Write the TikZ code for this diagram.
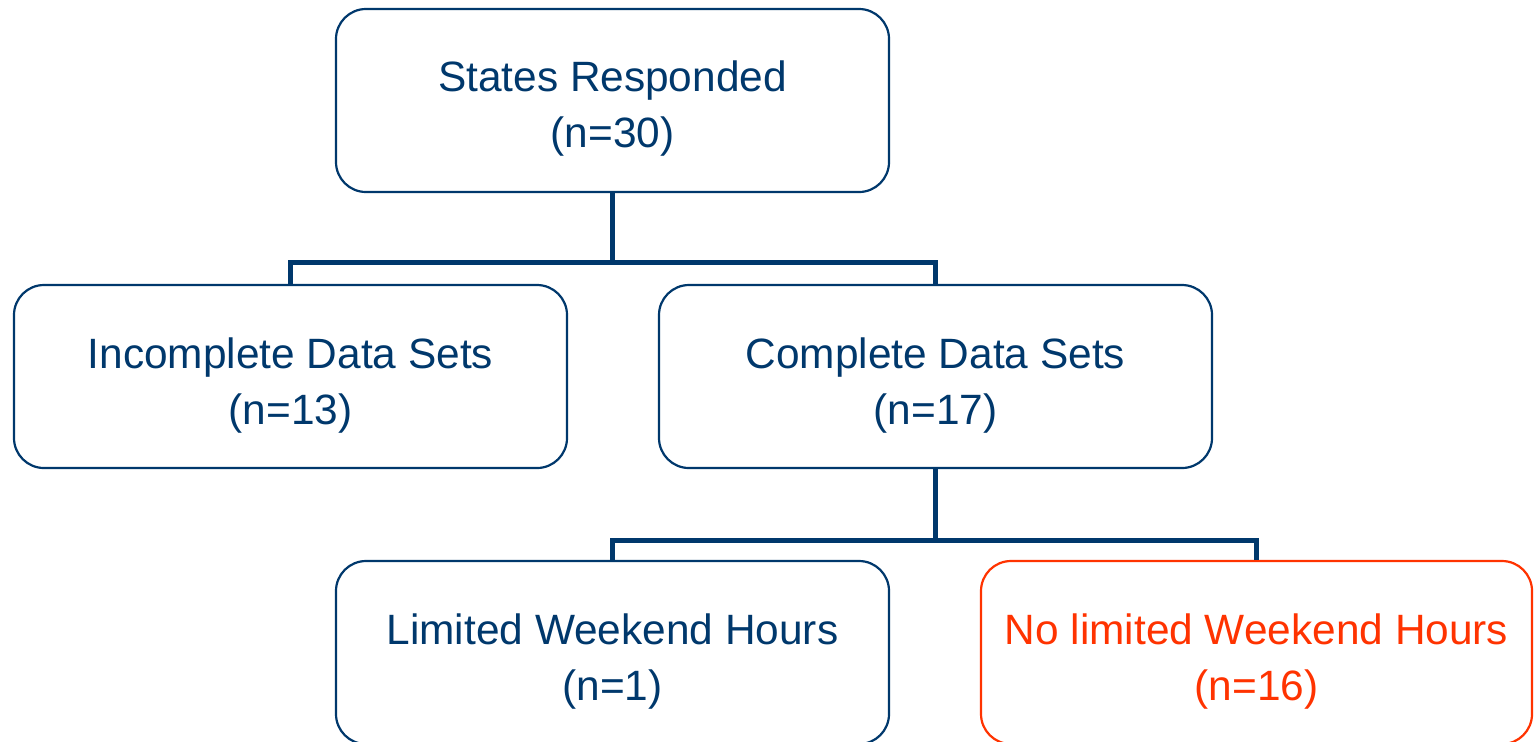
\documentclass[tikz,border=0pt]{standalone}
\usepackage{fontspec}
\setmainfont{Liberation Sans}
\definecolor{navy}{RGB}{0,56,108}
\definecolor{hot}{RGB}{255,51,0}
\begin{document}
\begin{tikzpicture}[x=0.5pt,y=-0.5pt,
  box/.style={draw=navy,line width=1.1pt,rounded corners=15pt,minimum width=276.5pt,minimum height=91.5pt,inner sep=0pt},
  hotbox/.style={box,draw=hot,minimum width=275.5pt},
  lbl/.style={anchor=base,inner sep=0pt,text=navy,font=\fontsize{21.2}{28}\selectfont},
  hotlbl/.style={lbl,text=hot},
  conn/.style={draw=navy,line width=2.5pt}]
\useasboundingbox (0,0) rectangle (1534,741);
\clip (0,0) rectangle (1534,741);
\fill[white] (0,0) rectangle (1534,741);
% boxes
\node[box] (top) at (612.5,100.5) {};
\node[box] (ml) at (290.5,376.5) {};
\node[box] (mr) at (935.5,376.5) {};
\node[box] (bl) at (612.5,652.5) {};
\node[hotbox] (br) at (1256.5,652.5) {};
% connectors
\coordinate (j1) at (612.5,262);
\coordinate (j2) at (935.5,540);
\draw[conn] (top.south) -- (j1) -| (ml.north);
\draw[conn] (j1) -| (mr.north);
\draw[conn] (mr.south) -- (j2) -| (bl.north);
\draw[conn] (j2) -| (br.north);
% labels
\node[lbl] (t1) at (612.5,91) {States Responded};
\node[lbl] (t2) at (612.5,147) {(n=30)};
\node[lbl] (ml1) at (290.5,368) {Incomplete Data Sets};
\node[lbl] (ml2) at (290.5,424) {(n=13)};
\node[lbl] (mr1) at (935.5,368) {Complete Data Sets};
\node[lbl] (mr2) at (935.5,424) {(n=17)};
\node[lbl] (bl1) at (612.5,644) {Limited Weekend Hours};
\node[lbl] (bl2) at (612.5,700) {(n=1)};
\node[hotlbl] (br1) at (1256.5,644) {No limited Weekend Hours};
\node[hotlbl] (br2) at (1256.5,700) {(n=16)};
\end{tikzpicture}
\end{document}
